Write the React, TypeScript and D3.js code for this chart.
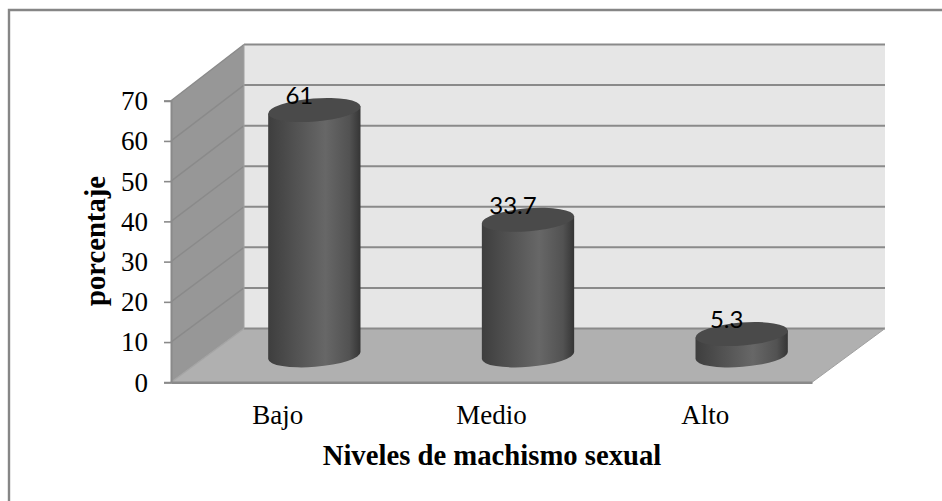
import React, { useRef, useEffect } from 'react';
import * as d3 from 'd3';

const categories = ['Bajo', 'Medio', 'Alto'];
const values = [61, 33.7, 5.3];
const valueLabels = ['61', '33.7', '5.3'];
const yTicks = [0, 10, 20, 30, 40, 50, 60, 70];

const WIDTH = 942;
const HEIGHT = 501;
const SERIF = '"Liberation Serif", serif';
const LINE = '#8a8a8a';

export default function App() {
  const svgRef = useRef<SVGSVGElement>(null);

  useEffect(() => {
    const svg = d3.select(svgRef.current);
    svg.selectAll('*').remove();

    const x = d3.scaleBand<string>().domain(categories).range([171, 812]);
    const y = d3.scaleLinear().domain([0, 70]).range([382.3, 100.7]);
    const yBack = d3.scaleLinear().domain([0, 70]).range([328.5, 44.5]);

    // depth of the 3d box
    const dx = 73;
    const dy = y(0) - yBack(0);
    const rx = 46.3;
    const ry = 11.5;
    const tilt = -4.5;
    const tiltRad = (tilt * Math.PI) / 180;

    const defs = svg.append('defs');
    const grad = defs.append('linearGradient').attr('id', 'cyl');
    [
      [0, '#3e3e3e'],
      [0.3, '#525252'],
      [0.62, '#676767'],
      [0.88, '#525252'],
      [1, '#353535'],
    ].forEach(([o, c]) => grad.append('stop').attr('offset', o as number).attr('stop-color', c as string));

    // outer frame, only top and left are inside the crop
    svg.append('path').attr('d', `M9,${HEIGHT}V10H${WIDTH}`)
      .attr('fill', 'none').attr('stroke', '#868686').attr('stroke-width', 2.4);

    // walls
    const [x0, x1] = x.range();
    const poly = (pts: number[][], fill: string) =>
      svg.append('polygon').attr('points', pts.join(' ')).attr('fill', fill);

    poly([[x0 + dx, yBack(70)], [x1 + dx, yBack(70)], [x1 + dx, yBack(0)], [x0 + dx, yBack(0)]], '#e6e6e6');
    poly([[x0, y(70)], [x0 + dx, yBack(70)], [x0 + dx, yBack(0)], [x0, y(0)]], '#979797');
    poly([[x0, y(0)], [x0 + dx, yBack(0)], [x1 + dx, yBack(0)], [x1, y(0)]], '#b0b0b0');

    // gridlines
    yTicks.forEach(t => {
      svg.append('line')
        .attr('x1', x0 + dx).attr('x2', x1 + dx)
        .attr('y1', yBack(t)).attr('y2', yBack(t))
        .attr('stroke', LINE).attr('stroke-width', 2);
      svg.append('line')
        .attr('x1', x0).attr('x2', x0 + dx)
        .attr('y1', y(t)).attr('y2', yBack(t))
        .attr('stroke', t === 0 ? '#a4a4a4' : LINE).attr('stroke-width', 1.4);
    });
    svg.append('line').attr('x1', x0 + dx).attr('x2', x0 + dx)
      .attr('y1', yBack(70)).attr('y2', yBack(0)).attr('stroke', '#a0a0a0').attr('stroke-width', 1);
    svg.append('line').attr('x1', x1).attr('x2', x1 + dx)
      .attr('y1', y(0)).attr('y2', yBack(0)).attr('stroke', '#a0a0a0').attr('stroke-width', 1);

    // axes
    const yAxis = svg.append('g')
      .attr('transform', `translate(${x0},0)`)
      .call(d3.axisLeft(y).tickValues(yTicks).tickSize(7).tickPadding(16));
    yAxis.selectAll('.domain').attr('stroke', LINE).attr('stroke-width', 2);
    yAxis.selectAll('.tick line').attr('stroke', LINE).attr('stroke-width', 1.6);
    yAxis.selectAll('text').attr('font-family', SERIF).attr('font-size', 27).attr('fill', '#000').attr('dy', '0.33em');

    const xAxis = svg.append('g')
      .attr('transform', `translate(0,${y(0)})`)
      .call(d3.axisBottom(x).tickSize(0).tickPadding(23));
    xAxis.selectAll('.domain').attr('stroke', LINE).attr('stroke-width', 2.4);
    xAxis.selectAll('text').attr('font-family', SERIF).attr('font-size', 27).attr('fill', '#000');

    // cylinders
    const bars = svg.append('g').selectAll('g').data(values).enter().append('g');
    const cx = (i: number) => (x(categories[i]) as number) + x.bandwidth() / 2 + dx / 2;
    const offX = rx * Math.cos(tiltRad);
    const offY = rx * Math.sin(tiltRad);

    bars.append('path')
      .attr('fill', 'url(#cyl)')
      .attr('d', (d, i) => {
        const top = y(d) - dy / 2;
        const base = y(0) - dy / 2;
        const p = `M${cx(i) - offX},${top - offY}`;
        return `${p}L${cx(i) - offX},${base - offY}`
          + `A${rx},${ry} ${tilt} 0 0 ${cx(i) + offX},${base + offY}`
          + `L${cx(i) + offX},${top + offY}Z`;
      });

    bars.append('ellipse')
      .attr('cx', (d, i) => cx(i))
      .attr('cy', d => y(d) - dy / 2)
      .attr('rx', rx).attr('ry', ry)
      .attr('transform', (d, i) => `rotate(${tilt} ${cx(i)} ${y(d) - dy / 2})`)
      .attr('fill', '#4a4a4a');

    bars.append('text')
      .attr('x', (d, i) => cx(i) - 15)
      .attr('y', d => y(d) - dy / 2 - 6)
      .attr('text-anchor', 'middle')
      .attr('font-family', 'Lato, sans-serif')
      .attr('font-size', 24)
      .attr('fill', '#000')
      .text((d, i) => valueLabels[i]);

    // axis titles
    svg.append('text')
      .attr('x', 492).attr('y', 465)
      .attr('text-anchor', 'middle')
      .attr('font-family', SERIF).attr('font-weight', 'bold').attr('font-size', 28.7)
      .text('Niveles de machismo sexual');

    svg.append('text')
      .attr('transform', 'translate(105,241) rotate(-90)')
      .attr('text-anchor', 'middle')
      .attr('font-family', SERIF).attr('font-weight', 'bold').attr('font-size', 28.7)
      .text('porcentaje');
  }, []);

  return (
    <svg
      ref={svgRef}
      width={WIDTH}
      height={HEIGHT}
      style={{ position: 'absolute', left: 0, top: 0, background: '#fff' }}
    />
  );
}
